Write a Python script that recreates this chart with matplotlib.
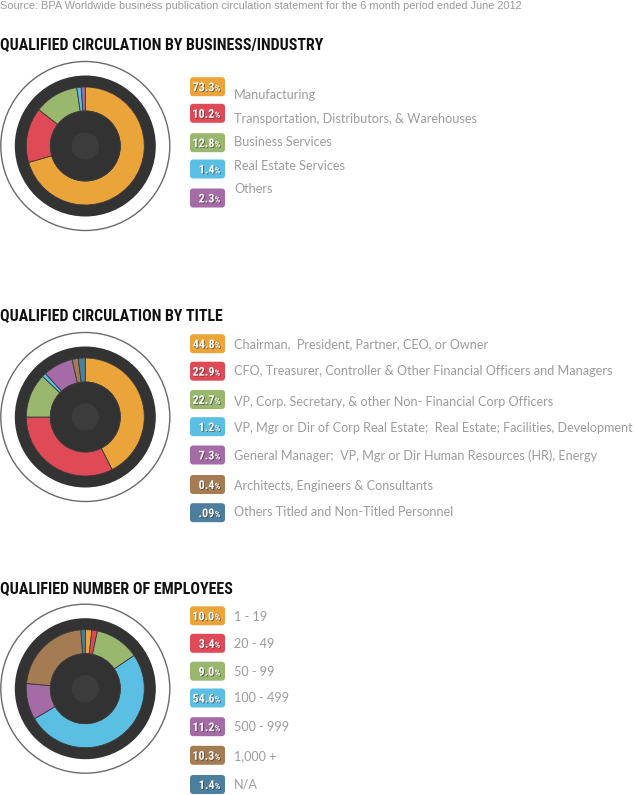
import os
import matplotlib
matplotlib.use("Agg")
import matplotlib.pyplot as plt
import matplotlib.patheffects as pe
from matplotlib import font_manager as fm
from matplotlib.patches import Circle, FancyBboxPatch

# colours used by every chart, in legend order
colors = ["#EBA43A", "#E04A57", "#9AB76E", "#5BBFE3", "#A56BA6", "#A57C52", "#4C7F9E"]

source_text = ("Source: BPA Worldwide business publication circulation statement "
               "for the 6 month period ended June 2012")

# chart 1 - business / industry
industry_title = "QUALIFIED CIRCULATION BY BUSINESS/INDUSTRY"
industry_labels = ["Manufacturing", "Transportation, Distributors, & Warehouses",
                   "Business Services", "Real Estate Services", "Others"]
industry_pct = ["73.3", "10.2", "12.8", "1.4", "2.3"]
industry_arc = [70.3, 15.0, 12.1, 1.2, 1.1]   # slice sizes as drawn in the ring

# chart 2 - title
title_title = "QUALIFIED CIRCULATION BY TITLE"
title_labels = ["Chairman,  President, Partner, CEO, or Owner",
                "CFO, Treasurer, Controller & Other Financial Officers and Managers",
                "VP, Corp. Secretary, & other Non- Financial Corp Officers",
                "VP, Mgr or Dir of Corp Real Estate;  Real Estate; Facilities, Development",
                "General Manager;  VP, Mgr or Dir Human Resources (HR), Energy",
                "Architects, Engineers & Consultants",
                "Others Titled and Non-Titled Personnel"]
title_pct = ["44.8", "22.9", "22.7", "1.2", "7.3", "0.4", ".09"]
title_arc = [42.5, 32.5, 12.1, 1.1, 8.2, 1.7, 1.9]

# chart 3 - number of employees
employee_title = "QUALIFIED NUMBER OF EMPLOYEES"
employee_labels = ["1 - 19", "20 - 49", "50 - 99", "100 - 499", "500 - 999", "1,000 +", "N/A"]
employee_pct = ["10.0", "3.4", "9.0", "54.6", "11.2", "10.3", "1.4"]
employee_arc = [1.8, 1.5, 12.2, 51.0, 9.9, 22.4, 1.2]


def find_narrow_bold():
    # look for any condensed / narrow bold face that happens to be installed
    prefs = ["liberationsansnarrow-bold", "robotocondensed-bold", "notosans-condensedbold",
             "opensans-condensedbold", "dejavusanscondensed-bold", "condensed-bold",
             "condensedbold", "narrow-bold", "narrowbold"]
    files = [f.fname for f in fm.fontManager.ttflist]
    for key in prefs:
        for f in files:
            base = os.path.basename(f).lower().replace(" ", "")
            if key in base and "italic" not in base and "oblique" not in base:
                return fm.FontProperties(fname=f)
    return fm.FontProperties(family="DejaVu Sans", weight="bold")


NARROW = find_narrow_bold()

W, H = 636, 795
fig = plt.figure(figsize=(W / 100, H / 100), dpi=100)
fig.patch.set_facecolor("white")
renderer = fig.canvas.get_renderer()

bg = fig.add_axes([0, 0, 1, 1])
bg.set_xlim(0, W)
bg.set_ylim(H, 0)
bg.axis("off")

bg.text(0, 6, source_text, fontsize=7.9, color="#9A9A9A", family="Liberation Sans",
        va="center", ha="left")

LABEL_FONT = ["Lato", "DejaVu Sans"]


def fit_size(txt, fs, target):
    t = bg.text(0, 0, txt, fontproperties=NARROW, fontsize=fs)
    w = t.get_window_extent(renderer).width
    t.remove()
    return fs * target / w


def draw_record(cx, cy, arcs, ncol):
    R = 86
    ax = fig.add_axes([(cx - R) / W, 1 - (cy + R) / H, 2 * R / W, 2 * R / H])
    ax.axis("off")
    ax.add_patch(Circle((0, 0), 84.5, facecolor="none", edgecolor="#6A6A6A", lw=1.0))
    ax.add_patch(Circle((0, 0), 70.5, facecolor="#333333", edgecolor="none"))
    ax.pie(arcs, colors=colors[:ncol], startangle=90, counterclock=False,
           radius=59, normalize=True,
           wedgeprops=dict(width=24, edgecolor="#3a3a3a", linewidth=0.6))
    ax.add_patch(Circle((0, 0), 35, facecolor="#323232", edgecolor="#3f3f3f", lw=0.6, zorder=5))
    ax.add_patch(Circle((0, 0), 13.7, facecolor="#3C3C3C", edgecolor="none", zorder=6))
    ax.set_xlim(-R, R)
    ax.set_ylim(-R, R)


badge_fs = min(10.5, fit_size("73.3", 9, 22))


def draw_legend(pcts, labels, badge_y, text_y):
    shadow = [pe.withSimplePatchShadow(offset=(0.6, -0.6), shadow_rgbFace="#222222", alpha=0.6)]
    for i, (p, lab) in enumerate(zip(pcts, labels)):
        by = badge_y[i]
        bg.add_patch(FancyBboxPatch((190, by - 9.5), 35, 19,
                                    boxstyle="round,pad=0,rounding_size=3",
                                    facecolor=colors[i], edgecolor="none"))
        bg.text(214.5, by + 4.5, p, fontproperties=NARROW, fontsize=badge_fs, color="white",
                ha="right", va="baseline", path_effects=shadow)
        bg.text(214.8, by + 4.5, "%", fontproperties=NARROW, fontsize=badge_fs * 0.7,
                color="white", ha="left", va="baseline", path_effects=shadow)
        bg.text(234, text_y[i] + 4.5, lab, fontsize=9.1, color="#9C9C9C",
                family=LABEL_FONT, ha="left", va="baseline")


def draw_title(y, txt, right_edge):
    fs = min(16, fit_size(txt, 14, right_edge * 1.06))
    bg.text(0, y, txt, fontproperties=NARROW, fontsize=fs, color="#111111",
            ha="left", va="center")


draw_title(45, industry_title, 307)
draw_record(85.3, 146, industry_arc, 5)
draw_legend(industry_pct, industry_labels,
            [86.7, 113.3, 142.7, 169, 198],
            [94.7, 118.7, 142, 165.3, 188.3])

draw_title(316, title_title, 212)
draw_record(85.3, 417, title_arc, 7)
draw_legend(title_pct, title_labels,
            [343.7, 371.2, 399.5, 426.7, 455, 484.5, 512.7],
            [343.5, 370.3, 401, 428, 455.3, 485, 512])

draw_title(589, employee_title, 221)
draw_record(85.3, 688.7, employee_arc, 7)
draw_legend(employee_pct, employee_labels,
            [615.8, 643.3, 671.2, 698, 726.7, 755.3, 784.5],
            [616.7, 644, 671.7, 698, 726.7, 755.7, 784])

fig.savefig("out.png", dpi=100, facecolor="white")
